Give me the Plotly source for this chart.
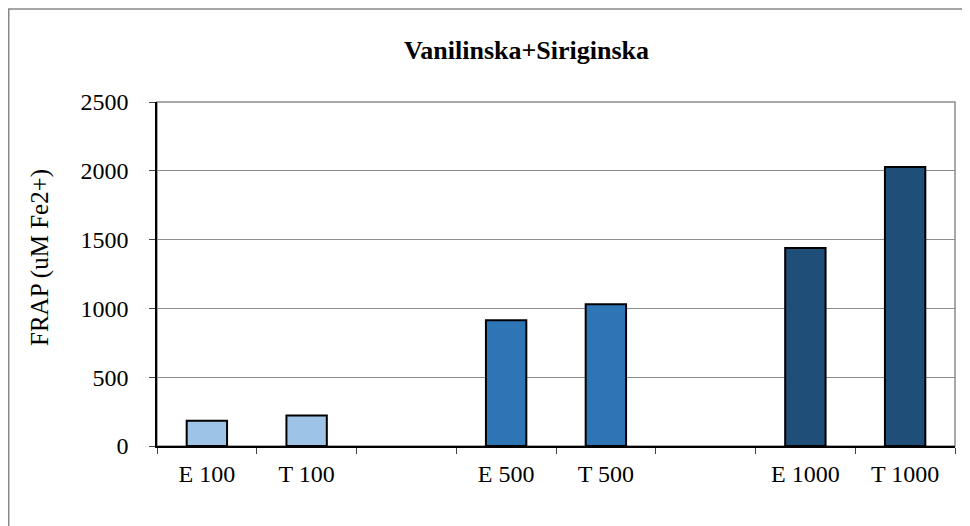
import plotly.graph_objects as go

# chart data
categories = ["E 100", "T 100", " ", "E 500", "T 500", "  ", "E 1000", "T 1000"]
frap_values = [184, 222, None, 913, 1030, None, 1439, 2028]
bar_colors = ["#9DC3E6", "#9DC3E6", "#9DC3E6", "#2E75B6", "#2E75B6", "#2E75B6", "#1F4E79", "#1F4E79"]
y_ticks = [0, 500, 1000, 1500, 2000, 2500]

FONT = "Liberation Serif"

# page puts the figure 8px in from the window corner
W, H = 970, 526
L, T, R, B = 149, 94, 23, 88
PW, PH = W - L - R, H - T - B

fig = go.Figure()

fig.add_trace(
    go.Bar(
        x=categories,
        y=frap_values,
        marker=dict(color=bar_colors, line=dict(color="black", width=2)),
        showlegend=False,
    )
)

fig.update_layout(
    width=W,
    height=H,
    margin=dict(l=L, r=R, t=T, b=B),
    paper_bgcolor="white",
    plot_bgcolor="white",
    font=dict(family=FONT, size=24, color="black"),
    bargap=0.595,
    title=dict(
        text="<b>Vanilinska+Siriginska</b>",
        x=518.5 / W,
        xanchor="center",
        y=1 - 42 / H,
        yanchor="middle",
        font=dict(family=FONT, size=26, color="black"),
    ),
    xaxis=dict(
        type="category",
        categoryorder="array",
        categoryarray=categories,
        showline=True,
        linecolor="black",
        linewidth=1.5,
        ticks="outside",
        tickson="boundaries",
        ticklen=6,
        tickcolor="#444",
        showgrid=False,
        ticklabelstandoff=5,
    ),
    yaxis=dict(
        range=[0, 2500],
        tickvals=y_ticks,
        showline=True,
        linecolor="black",
        linewidth=1.5,
        ticks="outside",
        ticklen=6,
        tickcolor="#444",
        showgrid=True,
        gridcolor="#8c8c8c",
        gridwidth=1,
        zeroline=False,
        ticklabelstandoff=16,
    ),
    shapes=[
        # plot area border
        dict(type="rect", xref="paper", yref="paper", x0=0, x1=1, y0=0, y1=1,
             line=dict(color="#8c8c8c", width=1.5), layer="below"),
        # outer chart border
        dict(type="rect", xref="paper", yref="paper",
             x0=(0.75 - L) / PW, x1=(W + 10 - L) / PW,
             y0=(PH + T - H - 10) / PH, y1=(PH + T - 1) / PH,
             line=dict(color="#888888", width=1.5)),
    ],
    annotations=[
        dict(
            text="FRAP (uM Fe2+)",
            textangle=-90,
            xref="paper", yref="paper",
            x=(32 - L) / PW, y=(T + PH - 250) / PH,
            xanchor="center", yanchor="middle",
            showarrow=False,
            font=dict(family=FONT, size=25, color="black"),
        )
    ],
)

fig.write_html("out.html")
